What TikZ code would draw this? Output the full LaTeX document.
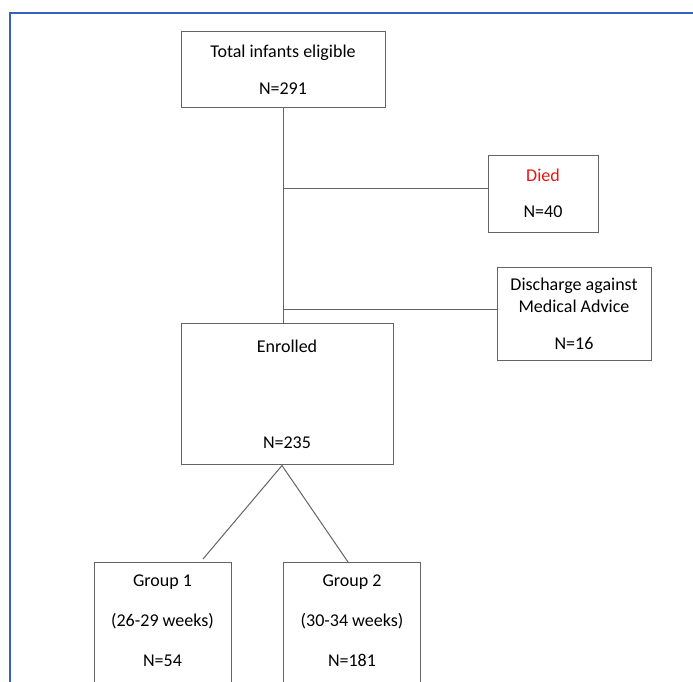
\documentclass[tikz,border=0pt]{standalone}
\usepackage{fontspec}
\setmainfont{Carlito}
\usetikzlibrary{positioning}
\definecolor{frameblue}{RGB}{52,98,190}
\definecolor{boxgray}{RGB}{100,100,100}
\definecolor{diedred}{RGB}{235,20,20}

\begin{document}
\begin{tikzpicture}[x=1pt, y=-1pt,
    flowbox/.style={draw=boxgray, line width=1pt, align=center, inner sep=0pt, font=\fontsize{18}{22}\selectfont, text=black},
    grpbox/.style={flowbox, anchor=north, inner ysep=12pt, minimum width=137pt, text depth=70pt},
    link/.style={draw=boxgray, line width=1pt}
]
\useasboundingbox (0,0) rectangle (693,682);
\clip (0,0) rectangle (693,682);
% page frame
\draw[frameblue, line width=2pt] (9.5,700) -- (9.5,13.5) -- (700,13.5);

\node[flowbox, minimum width=204pt, minimum height=76pt] (total) at (283,70) {Total infants eligible\\[15pt]N=291};
\node[flowbox, minimum width=110pt, minimum height=77pt] (died) at (543,193.5) {\textcolor{diedred}{Died}\\[14pt]N=40};
\node[flowbox, minimum width=154pt, minimum height=93pt] (disch) at (574,313.5) {Discharge against\\Medical Advice\\[15pt]N=16};
\node[flowbox, minimum width=212pt, minimum height=141pt] (enrol) at (287,394) {Enrolled\\[74pt]N=235};
\node[grpbox] (grp1) at (162.5,562) {Group 1\\[18pt](26-29 weeks)\\[18pt]N=54};
\node[grpbox] (grp2) at (352,562) {Group 2\\[18pt](30-34 weeks)\\[18pt]N=181};

\coordinate (br1) at (283,188);
\coordinate (br2) at (283,309);
\coordinate (fork) at (282,465.5);
\coordinate (g1end) at (203,559);
\coordinate (g2end) at (348,562);

\draw[link] (total.south) -- (total.south |- enrol.north);
\draw[link] (br1) -- (br1 -| died.west);
\draw[link] (br2) -- (br2 -| disch.west);
\draw[link] (fork) -- (g1end);
\draw[link] (fork) -- (g2end);
\end{tikzpicture}
\end{document}
